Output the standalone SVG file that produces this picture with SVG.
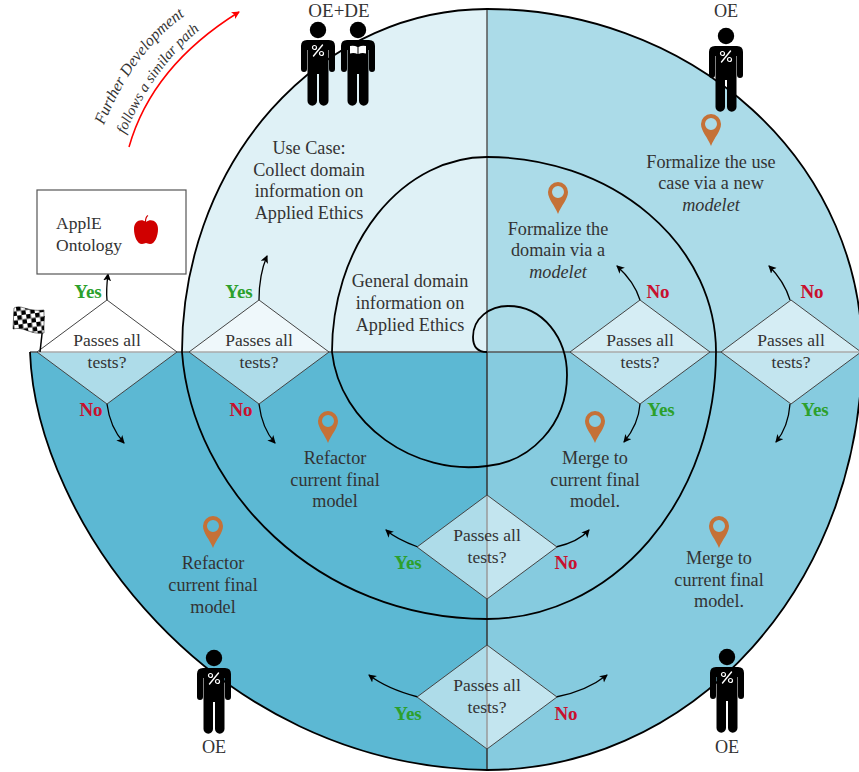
<svg xmlns="http://www.w3.org/2000/svg" width="859" height="772" viewBox="0 0 859 772">
<style>
text{font-family:"Liberation Serif","Times New Roman",serif;font-size:18.2px;fill:#333;text-anchor:middle}
.p{font-size:17.5px}
.i{font-style:italic}
.y{font-weight:bold;fill:#2ca02c;font-size:19px}
.n{font-weight:bold;fill:#c8102e;font-size:19px}
.d{fill:#fff;fill-opacity:.5;stroke:#444;stroke-width:1}
.a{fill:none;stroke:#000;stroke-width:1.3;marker-end:url(#ah)}
.w{fill:none;stroke:#fff;stroke-width:1.4;stroke-linecap:round}
</style>
<defs>
<marker id="ah" markerUnits="userSpaceOnUse" markerWidth="10" markerHeight="10" refX="7" refY="4" orient="auto"><path d="M0,0L8,4L0,8L2,4Z" fill="#000"/></marker>
<marker id="rh" markerUnits="userSpaceOnUse" markerWidth="10" markerHeight="10" refX="7" refY="4" orient="auto"><path d="M0,0L8,4L0,8L2,4Z" fill="#f00"/></marker>
<pattern id="chk" width="9" height="9" patternUnits="userSpaceOnUse" patternTransform="rotate(-8)"><rect width="9" height="9" fill="#fff"/><rect width="4.5" height="4.5" fill="#000"/><rect x="4.5" y="4.5" width="4.5" height="4.5" fill="#000"/></pattern>
<symbol id="pin" overflow="visible"><path fill-rule="evenodd" fill="#c57137" d="M0,32C-3,24-10,17-10,10A10,10 0 0 1 10,10C10,17 3,24 0,32ZM0,4A6,6 0 1 0 0,16A6,6 0 1 0 0,4Z"/></symbol>
<symbol id="body" overflow="visible">
<circle r="8.200" fill="#000"/>
<path fill="#000" d="M-11,10H11Q17,10 17,16V39A3,3 0 0 1 11,39V20H10.500V71A4.500,4.500 0 0 1 1,71V44H-1V71A4.500,4.500 0 0 1 -10.500,71V20H-11V39A3,3 0 0 1 -17,39V16Q-17,10 -11,10Z"/>
</symbol>
<symbol id="oe" overflow="visible">
<use href="#body"/>
<path class="w" d="M-4.500,26L4.500,15"/>
<circle cx="-3.500" cy="17.500" r="2" fill="none" stroke="#fff" stroke-width="1.200"/>
<circle cx="3.500" cy="23.500" r="2" fill="none" stroke="#fff" stroke-width="1.200"/>
</symbol>
<symbol id="de" overflow="visible">
<use href="#body"/>
<path fill="#fff" d="M-8,16Q-4,15 -.5,17V24Q-4,22.500 -8,23.500ZM8,16Q4,15 .5,17V24Q4,22.500 8,23.500Z"/>
</symbol>
</defs>

<g id="quadrants">
<path fill="#dff1f6" d="M487,352H182A305,343 0 0 1 487,9Z"/>
<path fill="#abdbe8" d="M487,352V9A375,343 0 0 1 862,352Z"/>
<path fill="#86cbdf" d="M487,352H862A375,418 0 0 1 487,770Z"/>
<path fill="#5cb8d3" d="M487,352V770C210,765 36,520 30,352Z"/>
</g>

<g id="connectors">
<path d="M30,352H859" fill="none" stroke="#555" stroke-width="1.500"/>
<path d="M487,9V352" fill="none" stroke="#555" stroke-width="1.500"/>
<path d="M487,352V770" fill="none" stroke="#333" stroke-width="1.500"/>
<path id="spiral" fill="none" stroke="#000" stroke-width="1.800" d="M487,352C476,352 473,345 473,337C473,318 490,306 508,306C543,306 567,338 567,375C567,425 530,462 487,466C415,476 340,425 332,352A155,195 0 0 1 487,157A229,195 0 0 1 716,352A229,267 0 0 1 487,619C318,619 192,490 182,352A305,343 0 0 1 487,9A375,343 0 0 1 862,352A375,418 0 0 1 487,770C210,765 36,520 30,352"/>
<path class="a" d="M107,300C106,290 107,282 108,274"/>
<path class="a" d="M259,300C259,285 261,270 267,256"/>
<path class="a" d="M640,300C636,287 628,276 617,266"/>
<path class="a" d="M790,300C786,287 779,276 769,266"/>
<path class="a" d="M107,404C109,420 115,433 124,443"/>
<path class="a" d="M259,404C261,420 266,433 275,443"/>
<path class="a" d="M640,404C639,418 633,431 624,442"/>
<path class="a" d="M790,404C789,418 785,431 776,442"/>
<path class="a" d="M418,547C407,543 395,538 386,530"/>
<path class="a" d="M556,547C569,544 581,539 589,530"/>
<path class="a" d="M418,697C399,692 382,685 369,675"/>
<path class="a" d="M556,697C577,693 593,686 607,675"/>
<path d="M129,147Q152,66 239,12" fill="none" stroke="#f00" stroke-width="1.500" marker-end="url(#rh)"/>
</g>

<g id="n-d1"><path class="d" d="M37,352L107,300L177,352L107,404Z"/><text class="p" x="107" y="346">Passes all</text><text class="p" x="107" y="368">tests?</text></g>
<g id="n-d2"><path class="d" d="M189,352L259,300L329,352L259,404Z"/><text class="p" x="259" y="346">Passes all</text><text class="p" x="259" y="368">tests?</text></g>
<g id="n-d3"><path class="d" d="M570,352L640,300L710,352L640,404Z"/><text class="p" x="640" y="346">Passes all</text><text class="p" x="640" y="368">tests?</text></g>
<g id="n-d4"><path class="d" d="M721,352L791,300L861,352L791,404Z"/><text class="p" x="791" y="346">Passes all</text><text class="p" x="791" y="368">tests?</text></g>
<g id="n-d5"><path class="d" d="M417,547L487,495L557,547L487,599Z"/><text class="p" x="487" y="541">Passes all</text><text class="p" x="487" y="563">tests?</text></g>
<g id="n-d6"><path class="d" d="M417,697L487,645L557,697L487,749Z"/><text class="p" x="487" y="691">Passes all</text><text class="p" x="487" y="713">tests?</text></g>

<g id="labels">
<text class="y" x="88" y="298">Yes</text>
<text class="y" x="239" y="298">Yes</text>
<text class="n" x="91" y="416">No</text>
<text class="n" x="241" y="416">No</text>
<text class="n" x="658" y="298">No</text>
<text class="y" x="661" y="416">Yes</text>
<text class="n" x="812" y="298">No</text>
<text class="y" x="815" y="416">Yes</text>
<text class="y" x="408" y="569">Yes</text>
<text class="n" x="566" y="569">No</text>
<text class="y" x="408" y="720">Yes</text>
<text class="n" x="566" y="720">No</text>
</g>

<g id="n-usecase"><text x="309" y="154">Use Case:</text><text x="309" y="176">Collect domain</text><text x="309" y="197">information on</text><text x="309" y="219">Applied Ethics</text></g>
<g id="n-general"><text x="410" y="287">General domain</text><text x="410" y="309">information on</text><text x="410" y="331">Applied Ethics</text></g>
<g id="n-formalize1"><use href="#pin" x="558" y="182"/><text x="558" y="235">Formalize the</text><text x="558" y="256">domain via a</text><text class="i" x="558" y="278">modelet</text></g>
<g id="n-formalize2"><use href="#pin" x="711" y="114"/><text x="711" y="168">Formalize the use</text><text x="711" y="189">case via a new</text><text class="i" x="711" y="211">modelet</text></g>
<g id="n-refactor1"><use href="#pin" x="328" y="411"/><text x="335" y="464">Refactor</text><text x="335" y="486">current final</text><text x="335" y="507">model</text></g>
<g id="n-merge1"><use href="#pin" x="595" y="411"/><text x="595" y="464">Merge to</text><text x="595" y="486">current final</text><text x="595" y="507">model.</text></g>
<g id="n-refactor2"><use href="#pin" x="213" y="516"/><text x="213" y="569">Refactor</text><text x="213" y="591">current final</text><text x="213" y="613">model</text></g>
<g id="n-merge2"><use href="#pin" x="719" y="516"/><text x="719" y="564">Merge to</text><text x="719" y="586">current final</text><text x="719" y="607">model.</text></g>

<g id="n-apple">
<rect x="37" y="190" width="149" height="84" fill="#fff" stroke="#555" stroke-width="1.200"/>
<text class="p" x="56" y="229" style="text-anchor:start">ApplE</text>
<text class="p" x="56" y="251" style="text-anchor:start">Ontology</text>
<path fill="#d00000" d="M146,222C141,218 134,221 134,229C134,236 137,244 142,244C144,244 145,243 146,243C147,243 148,244 150,244C155,244 158,236 158,229C158,221 151,218 146,222Z"/>
<path d="M145.500,222Q145.500,217 148,215.500" fill="none" stroke="#d00000" stroke-width="1.200"/>
</g>

<g id="n-flag">
<path d="M40,352L44,316" stroke="#000" stroke-width="1.500" fill="none"/>
<path fill="url(#chk)" stroke="#000" stroke-width=".5" d="M14,308C22,304 26,312 44,310L44,333C30,335 24,326 13,329Z"/>
</g>

<g id="n-further">
<path id="fp1" d="M95,148L102,130Q132,51 190,12L205,2" fill="none"/>
<path id="fp2" d="M117,154L124,137Q153,67 202,28L216,17" fill="none"/>
<text class="i" style="font-size:16px"><textPath href="#fp1" startOffset="50%">Further Development</textPath></text>
<text class="i" style="font-size:14.8px"><textPath href="#fp2" startOffset="50%">follows a similar path</textPath></text>
</g>

<g id="n-oede"><text x="339" y="17" style="font-size:19px">OE+DE</text><use href="#oe" x="318" y="30"/><use href="#de" x="358" y="30"/></g>
<g id="n-oe1"><text x="726" y="17">OE</text><use href="#oe" x="726" y="36"/></g>
<g id="n-oe2"><use href="#oe" x="214" y="658"/><text x="214" y="753">OE</text></g>
<g id="n-oe3"><use href="#oe" x="727" y="657"/><text x="727" y="753">OE</text></g>
</svg>
